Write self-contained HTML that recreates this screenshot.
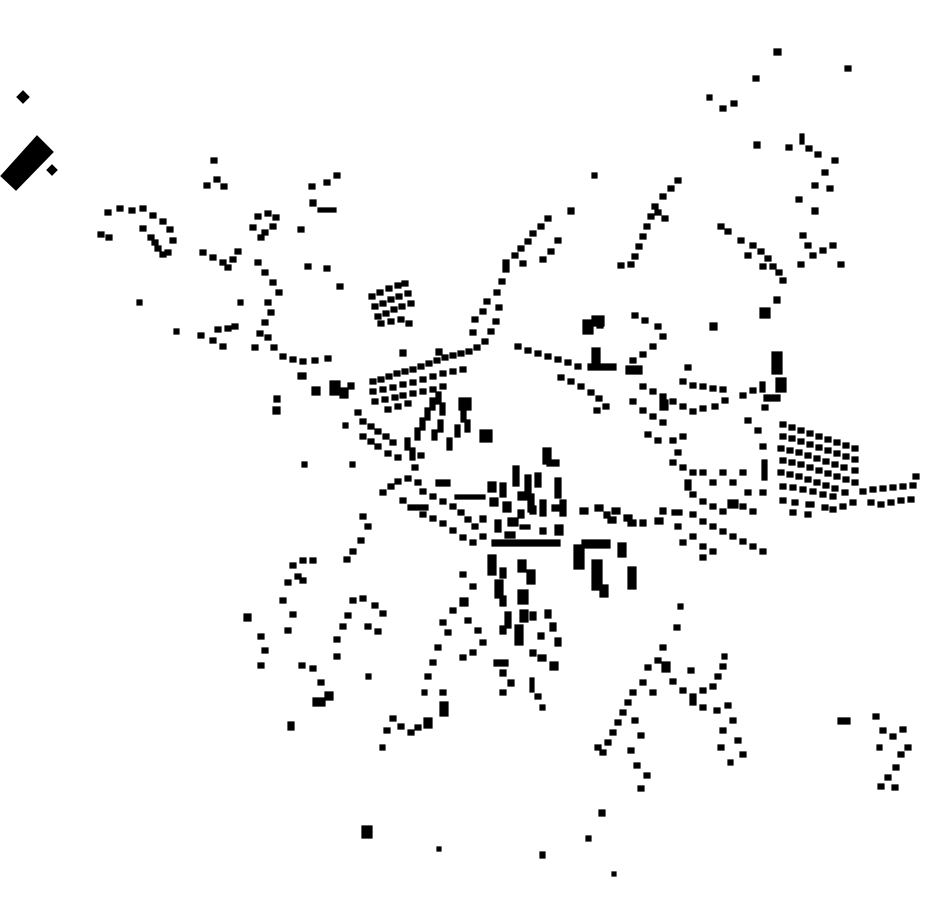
<!DOCTYPE html>
<html><head><meta charset="utf-8"><style>html,body{margin:0;padding:0;background:#fff}svg{display:block}</style></head>
<body>
<svg width="930" height="924" viewBox="0 0 930 924" xmlns="http://www.w3.org/2000/svg">
<g fill="#000" stroke="#000" stroke-width="1.2" stroke-linejoin="miter">
<polygon points="1,176 37,136 53,152 16,190"/>
<polygon points="17,97 23,91 29,97 23,103"/>
<polygon points="47,170 52,165 57,170 52,175"/>
<path d="M774 49h7v6h-7zM845 66h6v5h-6zM753 76h6v5h-6zM707 95h5v5h-5zM720 106h6v5h-6zM731 101h6v5h-6zM754 142h6v6h-6zM800 134h4v10h-4zM806 146h6v5h-6zM786 145h6v5h-6zM815 152h6v5h-6zM832 158h6v5h-6zM822 170h6v5h-6zM812 183h6v5h-6zM827 186h6v5h-6zM812 208h6v6h-6zM796 197h6v5h-6z
M105 210h6v5h-6zM117 206h6v5h-6zM129 208h6v5h-6zM140 206h6v5h-6zM150 213h6v5h-6zM160 219h6v5h-6zM167 227h6v5h-6zM170 238h6v5h-6zM165 250h6v5h-6zM155 246h6v5h-6zM148 235h6v5h-6zM140 226h6v5h-6zM98 232h6v5h-6zM106 235h6v5h-6zM152 240h6v5h-6zM160 252h6v5h-6z
M211 158h6v5h-6zM204 183h6v5h-6zM221 184h6v5h-6zM214 177h6v5h-6zM309 184h6v5h-6zM324 180h6v5h-6zM334 173h6v5h-6zM310 200h6v6h-6zM318 208h18v4h-18zM255 214h6v5h-6zM265 211h6v5h-6zM273 215h6v5h-6zM250 225h6v5h-6zM262 230h6v5h-6zM270 224h6v5h-6zM258 235h6v5h-6zM298 227h6v5h-6z
M200 250h6v5h-6zM210 255h6v5h-6zM220 260h6v5h-6zM230 257h6v5h-6zM235 249h6v5h-6zM225 265h6v5h-6zM255 260h6v5h-6zM262 270h6v5h-6zM270 280h6v5h-6zM276 290h6v5h-6zM265 300h6v5h-6zM268 310h6v5h-6zM262 320h6v5h-6zM257 331h6v5h-6zM252 345h6v5h-6zM265 335h6v5h-6zM271 345h6v5h-6zM280 354h6v5h-6zM290 357h6v5h-6zM300 359h6v5h-6zM312 358h6v5h-6zM325 356h6v5h-6zM238 300h5v5h-5zM137 300h5v5h-5zM174 329h5v5h-5zM198 333h6v5h-6zM210 338h6v5h-6zM215 327h6v5h-6zM225 326h6v5h-6zM232 324h6v5h-6zM220 344h6v5h-6z
M305 264h6v5h-6zM324 266h6v5h-6zM337 284h6v5h-6z
M369 294h6v5h-6zM377 290h6v5h-6zM386 286h6v5h-6zM395 283h6v5h-6zM402 281h6v5h-6zM372 304h6v5h-6zM380 301h6v5h-6zM388 297h6v5h-6zM396 294h6v5h-6zM405 291h6v5h-6zM375 314h6v5h-6zM383 311h6v5h-6zM391 307h6v5h-6zM399 304h6v5h-6zM408 301h6v5h-6zM378 321h6v5h-6zM388 319h6v5h-6zM398 317h6v5h-6zM406 321h6v5h-6z
M298 373h8v6h-8zM312 387h8v8h-8zM330 381h10v14h-10zM340 388h8v10h-8zM348 383h6v6h-6zM274 396h6v6h-6zM273 407h7v7h-7z
M370 379h6v5h-6zM378 377h6v5h-6zM386 374h6v5h-6zM394 371h6v5h-6zM402 369h6v5h-6zM410 367h6v5h-6zM418 364h6v5h-6zM426 361h6v5h-6zM434 358h6v5h-6zM442 355h6v5h-6zM450 353h6v5h-6zM458 351h6v5h-6zM466 349h6v5h-6zM474 345h6v5h-6zM482 339h6v5h-6zM488 329h6v5h-6zM493 319h6v5h-6zM496 305h6v5h-6zM494 290h6v5h-6zM499 279h6v5h-6zM503 260h6v12h-6zM512 253h6v5h-6zM518 246h6v5h-6zM525 239h6v5h-6zM530 231h6v5h-6zM538 224h6v5h-6zM545 216h6v5h-6zM555 238h6v5h-6zM548 249h6v5h-6zM540 257h6v5h-6zM520 261h6v5h-6zM470 330h6v5h-6zM472 317h6v5h-6zM480 309h6v5h-6zM484 299h6v5h-6zM568 208h6v6h-6zM436 349h6v6h-6zM400 350h6v6h-6z
M370 389h6v5h-6zM380 387h6v5h-6zM390 385h6v5h-6zM400 382h6v5h-6zM410 380h6v5h-6zM420 377h6v5h-6zM430 374h6v5h-6zM440 371h6v5h-6zM450 369h6v5h-6zM460 367h6v5h-6zM372 399h6v5h-6zM382 397h6v5h-6zM392 395h6v5h-6zM400 393h6v5h-6zM410 391h6v5h-6zM420 389h6v5h-6zM430 387h6v5h-6zM440 384h6v5h-6zM385 407h6v5h-6zM395 404h6v5h-6zM405 401h6v5h-6z
M360 419h6v5h-6zM368 424h6v5h-6zM375 429h6v5h-6zM383 434h6v5h-6zM390 440h6v5h-6zM360 434h6v5h-6zM368 439h6v5h-6zM375 444h6v5h-6zM385 451h6v5h-6zM395 455h6v5h-6zM343 423h5v5h-5zM355 410h6v5h-6z
M405 438h5v12h-5zM410 448h5v12h-5zM415 428h5v12h-5zM420 418h5v12h-5zM425 408h5v12h-5zM430 398h5v12h-5zM436 392h5v12h-5zM440 403h5v12h-5zM438 420h5v12h-5zM432 430h5v10h-5zM412 465h6v5h-6zM418 453h6v5h-6zM461 410h5v12h-5zM455 425h5v12h-5zM465 420h5v12h-5zM447 438h5v12h-5z
M459 398h12v12h-12zM480 430h12v12h-12zM302 462h5v5h-5zM350 462h5v5h-5z
M488 482h8v10h-8zM500 483h6v14h-6zM513 466h6v20h-6zM525 475h6v18h-6zM535 473h6v14h-6zM543 448h8v16h-8zM547 460h12v6h-12zM555 478h6v20h-6zM490 498h8v8h-8zM503 502h8v10h-8zM518 492h10v8h-10zM528 494h6v18h-6zM540 500h6v16h-6zM552 505h10v6h-10zM560 500h6v16h-6zM480 516h6v6h-6zM495 520h6v12h-6zM508 518h10v8h-10zM518 510h6v8h-6zM530 506h6v8h-6zM520 525h10v4h-10zM492 540h68v6h-68zM505 532h10v6h-10zM540 528h6v6h-6zM555 525h8v10h-8z
M455 495h30v4h-30z
M580 508h8v6h-8zM595 505h8v6h-8zM604 512h6v6h-6zM612 508h8v6h-8zM624 515h8v6h-8zM640 520h6v6h-6zM655 518h8v6h-8zM660 508h6v6h-6zM608 517h8v6h-8zM628 520h8v6h-8z
M380 490h6v5h-6zM388 484h6v5h-6zM395 479h6v5h-6zM405 476h6v5h-6zM415 480h6v5h-6zM420 489h6v5h-6zM430 494h6v5h-6zM440 499h6v5h-6zM450 504h6v5h-6zM458 510h6v5h-6zM465 517h6v5h-6zM472 524h6v5h-6zM480 534h6v5h-6zM360 514h6v5h-6zM365 524h6v5h-6zM358 538h6v5h-6zM350 549h6v5h-6zM344 557h6v5h-6zM408 505h20v5h-20zM420 512h6v5h-6zM430 516h6v5h-6zM440 521h6v5h-6zM450 528h6v5h-6zM460 535h6v5h-6zM470 540h6v5h-6zM436 480h14v6h-14zM400 498h6v5h-6z
M574 545h10v24h-10zM582 540h28v8h-28zM592 560h10v30h-10zM600 585h8v12h-8zM618 543h8v14h-8zM628 567h8v22h-8z
M488 555h8v20h-8zM500 568h6v10h-6zM495 580h8v18h-8zM500 596h6v10h-6zM505 612h6v16h-6zM500 626h6v8h-6zM518 560h8v12h-8zM527 570h8v14h-8zM518 590h10v14h-10zM520 610h8v12h-8zM515 625h8v20h-8zM530 650h6v6h-6zM538 655h8v6h-8zM550 662h8v8h-8zM494 660h14v6h-14zM500 670h6v6h-6zM508 680h6v6h-6zM500 690h6v5h-6zM530 678h4v14h-4zM535 694h6v5h-6zM540 705h5v5h-5zM460 572h6v5h-6zM470 584h6v5h-6zM460 598h8v8h-8zM450 608h6v5h-6zM440 620h6v5h-6zM445 630h6v5h-6zM435 645h6v5h-6zM430 660h6v5h-6zM425 674h6v5h-6zM440 690h6v5h-6zM440 702h8v14h-8zM424 718h8v10h-8zM415 725h6v5h-6zM408 730h6v5h-6zM398 724h6v5h-6zM390 716h6v5h-6zM384 728h6v5h-6zM380 745h5v5h-5zM465 618h6v5h-6zM475 628h6v5h-6zM480 640h6v5h-6zM470 650h6v5h-6zM460 655h6v5h-6zM545 610h6v8h-6zM550 623h6v8h-6zM555 638h6v8h-6zM538 633h6v6h-6zM530 612h6v8h-6z
M290 563h6v5h-6zM300 558h6v5h-6zM310 558h6v5h-6zM295 574h6v5h-6zM285 580h6v5h-6zM300 578h6v5h-6zM280 598h6v5h-6zM290 612h6v5h-6zM285 628h6v5h-6zM244 614h7v7h-7zM258 634h6v5h-6zM262 648h6v5h-6zM258 663h6v5h-6zM299 663h6v5h-6zM310 666h6v5h-6zM318 680h6v5h-6zM313 698h12v8h-12zM325 692h8v8h-8zM288 722h6v8h-6zM350 598h6v5h-6zM360 596h6v5h-6zM372 603h6v5h-6zM380 611h6v5h-6zM345 613h6v5h-6zM340 624h6v5h-6zM334 637h6v5h-6zM365 624h6v5h-6zM375 629h6v5h-6zM334 654h6v5h-6zM366 674h5v5h-5zM422 690h5v5h-5z
M362 826h10v12h-10zM437 847h4v4h-4zM540 852h5v6h-5zM612 872h4v4h-4zM586 836h5v5h-5zM599 810h6v6h-6z
M678 604h5v5h-5zM674 625h6v5h-6zM660 645h6v5h-6zM655 658h6v5h-6zM662 662h8v10h-8zM670 679h6v5h-6zM680 688h6v5h-6zM690 694h6v5h-6zM700 688h6v5h-6zM710 684h6v5h-6zM715 674h6v5h-6zM720 664h6v5h-6zM722 654h5v5h-5zM688 668h6v5h-6zM640 680h6v5h-6zM630 690h6v5h-6zM625 700h6v5h-6zM620 710h6v5h-6zM615 720h6v5h-6zM610 730h6v5h-6zM605 740h6v5h-6zM600 750h6v5h-6zM595 745h6v5h-6zM632 718h6v5h-6zM638 733h6v5h-6zM628 748h6v5h-6zM634 763h6v5h-6zM644 773h6v5h-6zM638 786h6v5h-6zM714 708h6v5h-6zM725 703h6v5h-6zM730 718h6v5h-6zM720 728h6v5h-6zM735 738h6v5h-6zM740 752h6v5h-6zM728 760h5v5h-5zM718 745h6v5h-6zM645 665h6v5h-6zM650 690h6v5h-6zM700 705h6v5h-6zM690 700h6v5h-6z
M838 718h12v6h-12zM873 714h6v5h-6zM880 728h6v5h-6zM890 734h6v5h-6zM900 727h6v5h-6zM905 745h6v5h-6zM898 752h6v5h-6zM893 765h6v5h-6zM885 775h6v5h-6zM878 784h6v5h-6zM892 785h6v5h-6zM877 745h5v5h-5z
M592 173h5v5h-5zM675 178h6v5h-6zM668 186h6v5h-6zM660 194h6v5h-6zM652 204h6v5h-6zM648 214h6v5h-6zM644 224h6v5h-6zM640 234h6v5h-6zM636 244h6v5h-6zM632 254h6v5h-6zM628 262h6v5h-6zM618 263h6v5h-6zM655 210h6v5h-6zM662 216h6v5h-6zM597 323h6v5h-6zM632 313h6v5h-6zM642 318h6v5h-6zM655 324h6v5h-6zM660 334h6v5h-6zM650 344h6v5h-6zM640 352h6v5h-6zM630 358h6v5h-6zM710 323h7v7h-7zM760 308h10v10h-10zM774 297h6v6h-6zM583 320h10v14h-10zM592 316h12v10h-12z
M515 344h6v5h-6zM525 348h6v5h-6zM535 351h6v5h-6zM545 354h6v5h-6zM555 357h6v5h-6zM565 360h6v5h-6zM575 364h6v5h-6zM558 375h6v5h-6zM568 379h6v5h-6zM578 384h6v5h-6zM588 390h6v5h-6zM596 396h6v5h-6zM603 404h6v5h-6zM594 408h6v5h-6zM588 364h28v6h-28zM592 348h8v18h-8zM626 366h16v8h-16zM640 384h6v5h-6zM650 389h6v5h-6zM660 394h6v5h-6zM670 399h6v5h-6zM680 404h6v5h-6zM690 409h6v5h-6zM700 406h6v5h-6zM712 404h6v5h-6zM722 398h6v5h-6zM740 393h6v5h-6zM750 388h6v5h-6zM680 379h6v5h-6zM690 383h6v5h-6zM700 384h6v5h-6zM710 386h6v5h-6zM720 387h6v5h-6zM630 399h6v5h-6zM640 408h6v5h-6zM650 414h6v5h-6zM660 420h6v5h-6zM645 432h6v5h-6zM655 438h6v5h-6zM660 400h8v10h-8zM685 365h6v5h-6z
M772 352h10v22h-10zM776 378h10v14h-10zM764 395h16v6h-16zM760 382h5v10h-5zM762 405h6v5h-6z
M780 422h6v5h-6zM789 425h6v5h-6zM798 428h6v5h-6zM807 431h6v5h-6zM816 434h6v5h-6zM825 437h6v5h-6zM834 440h6v5h-6zM843 443h6v5h-6zM852 446h6v5h-6z
M780 434h6v5h-6zM789 436h6v5h-6zM798 439h6v5h-6zM807 442h6v5h-6zM816 445h6v5h-6zM825 448h6v5h-6zM834 451h6v5h-6zM843 454h6v5h-6zM852 457h6v5h-6z
M778 446h6v5h-6zM787 448h6v5h-6zM796 450h6v5h-6zM805 453h6v5h-6zM814 456h6v5h-6zM823 459h6v5h-6zM832 462h6v5h-6zM841 465h6v5h-6zM852 468h6v5h-6z
M780 458h6v5h-6zM789 460h6v5h-6zM798 462h6v5h-6zM807 465h6v5h-6zM816 468h6v5h-6zM825 471h6v5h-6zM834 474h6v5h-6zM843 477h6v5h-6zM852 480h6v5h-6z
M778 470h6v5h-6zM787 472h6v5h-6zM796 474h6v5h-6zM805 477h6v5h-6zM814 480h6v5h-6zM823 483h6v5h-6zM832 486h6v5h-6z
M780 484h6v5h-6zM790 485h6v5h-6zM800 487h6v5h-6zM810 489h6v5h-6zM820 492h6v5h-6zM830 494h6v5h-6zM842 490h6v5h-6zM780 498h6v5h-6zM792 500h6v5h-6zM806 502h8v5h-8zM822 505h6v5h-6zM790 510h6v5h-6zM805 512h6v5h-6z
M860 489h6v5h-6zM870 487h6v5h-6zM880 486h6v5h-6zM890 485h6v5h-6zM900 484h6v5h-6zM910 483h6v5h-6zM913 474h6v5h-6zM868 500h6v5h-6zM878 502h6v5h-6zM888 500h6v5h-6zM898 498h6v5h-6zM908 497h6v5h-6zM850 500h6v5h-6zM840 504h6v5h-6zM830 507h6v5h-6z
M670 438h6v5h-6zM680 434h6v5h-6zM675 450h6v5h-6zM670 460h6v5h-6zM680 465h6v5h-6zM690 470h6v5h-6zM685 480h6v10h-6zM690 492h6v5h-6zM700 499h6v5h-6zM710 504h6v5h-6zM720 509h6v5h-6zM728 500h10v8h-10zM740 504h6v5h-6zM750 509h6v5h-6zM700 519h6v5h-6zM710 524h6v5h-6zM720 529h6v5h-6zM730 534h6v5h-6zM740 539h6v5h-6zM750 544h6v5h-6zM760 549h6v5h-6zM690 534h6v5h-6zM700 544h6v5h-6zM710 549h6v5h-6zM700 555h6v5h-6zM680 540h6v5h-6zM675 524h6v5h-6zM745 418h6v5h-6zM755 428h6v5h-6zM760 444h6v5h-6zM762 460h5v20h-5zM740 470h6v5h-6zM730 480h6v5h-6zM710 480h6v5h-6zM720 470h6v5h-6zM700 470h6v5h-6zM760 490h6v5h-6zM672 510h10v5h-10zM690 512h6v5h-6zM745 490h6v5h-6z
M718 224h6v5h-6zM725 229h6v5h-6zM738 238h6v5h-6zM750 243h6v5h-6zM758 249h6v5h-6zM765 256h6v5h-6zM770 264h6v5h-6zM776 270h6v5h-6zM760 264h6v5h-6zM745 253h6v5h-6zM800 233h6v5h-6zM805 243h6v5h-6zM810 253h6v5h-6zM820 248h6v5h-6zM830 243h6v5h-6zM838 262h6v5h-6zM780 278h6v5h-6zM798 262h6v5h-6z"/>
</g>
</svg>
</body></html>
